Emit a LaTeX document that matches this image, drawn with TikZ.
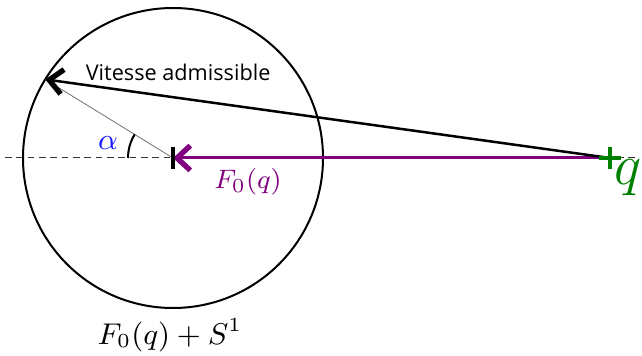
\documentclass[tikz,border=0pt]{standalone}
\usepackage{fontspec}
\usepackage{tikz}
\usetikzlibrary{arrows.meta,angles,quotes,calc}
\newfontfamily\vitfont{Open Sans}
\definecolor{violet}{HTML}{800080}
\definecolor{vert}{HTML}{008000}
\definecolor{bleu}{HTML}{1A1AFF}
\tikzset{
  axis/.style={dashed, dash pattern=on 2pt off 1.4pt, draw=black!80, line width=0.3pt},
  ring/.style={draw=black, line width=0.6pt},
  chevron/.style={-{Straight Barb[sharp,length=4pt,width=7.4pt,line width=1.6pt]}},
  vitarr/.style={chevron, draw=black, line width=0.75pt},
  forcearr/.style={chevron, draw=violet, line width=0.9pt},
  ray/.style={draw=black!55, line width=0.25pt},
  tick/.style={line width=1pt}
}

\begin{document}
\begin{tikzpicture}[x=0.3pt, y=-0.3pt]
        \useasboundingbox (0,0) rectangle (642,356);
        % points
        \coordinate (C) at (173,158);
        \coordinate (Q) at (610,158);
        \coordinate (L) at (5,158);
        \coordinate (R) at (635,158);
        \coordinate (P) at ($(C)+(148.4:45pt)$);
        \draw[axis] (L) -- (R);
        \draw[ring] (C) circle [radius=45pt];
        \draw[ray] (C) -- (P);
        \draw[forcearr] (Q) -- (C);
        \draw[vitarr] (Q) -- (P);
        \pic[draw=black, line width=0.6pt, angle radius=13.5pt] {angle = P--C--L};
        % markers
        \draw[tick, black] ($(C)+(0,-11)$) -- ($(C)+(0,11)$);
        \draw[tick, vert] ($(Q)+(-11,0)$) -- ($(Q)+(11,0)$);
        \draw[tick, vert] ($(Q)+(0,-11)$) -- ($(Q)+(0,11)$);
        % labels
        \node[font=\vitfont\fontsize{6.5}{8}\selectfont, anchor=west] (vit) at (74,72) {Vitesse admissible};
        \node[text=bleu, font=\small] (alpha) at (108,143) {$\alpha$};
        \node[text=violet, font=\footnotesize] (F) at (248,182) {$F_0(q)$};
        \node[text=vert, font=\LARGE] (q) at (628,178) {$q$};
        \node[font=\fontsize{9.2}{11}\selectfont] (S) at (170,335) {$F_0(q)+S^1$};
      \end{tikzpicture}
\end{document}
